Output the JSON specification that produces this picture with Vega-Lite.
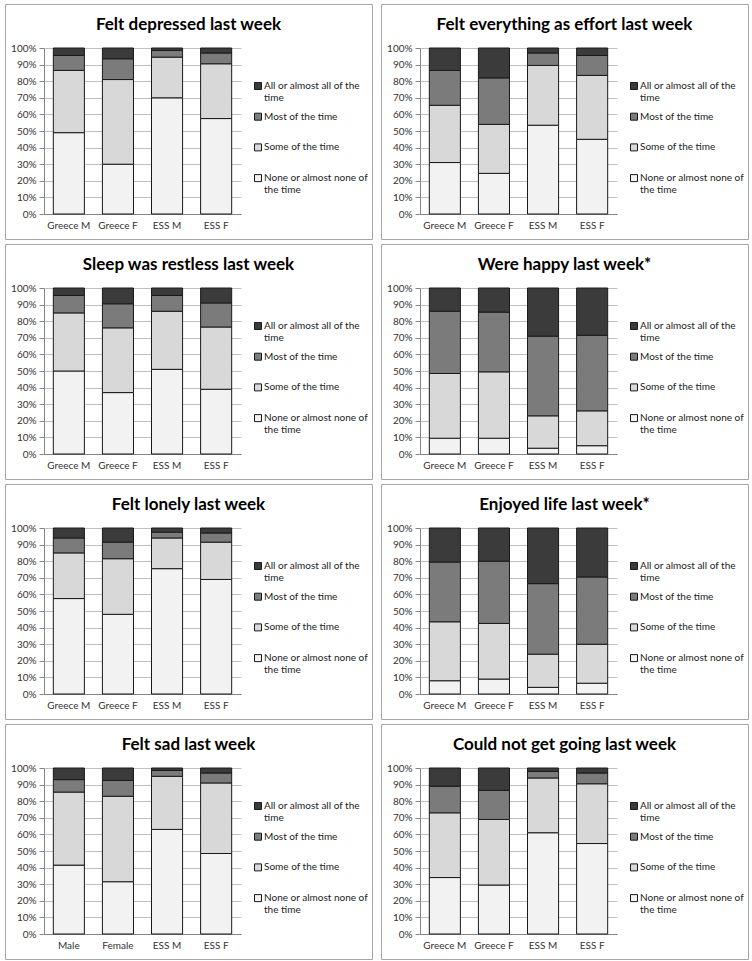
{
  "$schema": "https://vega.github.io/schema/vega-lite/v6.json",
  "padding": {"left": 4, "top": 3, "right": 0, "bottom": 0},
  "background": "white",
  "data": {"values": [
    {"q":"Felt depressed last week","g":"Greece M","r":"None","k":1,"v":49},
    {"q":"Felt depressed last week","g":"Greece M","r":"Some","k":2,"v":37.5},
    {"q":"Felt depressed last week","g":"Greece M","r":"Most","k":3,"v":9},
    {"q":"Felt depressed last week","g":"Greece M","r":"All","k":4,"v":4.5},
    {"q":"Felt depressed last week","g":"Greece F","r":"None","k":1,"v":30},
    {"q":"Felt depressed last week","g":"Greece F","r":"Some","k":2,"v":51},
    {"q":"Felt depressed last week","g":"Greece F","r":"Most","k":3,"v":12.5},
    {"q":"Felt depressed last week","g":"Greece F","r":"All","k":4,"v":6.5},
    {"q":"Felt depressed last week","g":"ESS M","r":"None","k":1,"v":70},
    {"q":"Felt depressed last week","g":"ESS M","r":"Some","k":2,"v":24.5},
    {"q":"Felt depressed last week","g":"ESS M","r":"Most","k":3,"v":4},
    {"q":"Felt depressed last week","g":"ESS M","r":"All","k":4,"v":1.5},
    {"q":"Felt depressed last week","g":"ESS F","r":"None","k":1,"v":57.5},
    {"q":"Felt depressed last week","g":"ESS F","r":"Some","k":2,"v":33},
    {"q":"Felt depressed last week","g":"ESS F","r":"Most","k":3,"v":6.5},
    {"q":"Felt depressed last week","g":"ESS F","r":"All","k":4,"v":3},

    {"q":"Felt everything as effort last week","g":"Greece M","r":"None","k":1,"v":31},
    {"q":"Felt everything as effort last week","g":"Greece M","r":"Some","k":2,"v":34.5},
    {"q":"Felt everything as effort last week","g":"Greece M","r":"Most","k":3,"v":21},
    {"q":"Felt everything as effort last week","g":"Greece M","r":"All","k":4,"v":13.5},
    {"q":"Felt everything as effort last week","g":"Greece F","r":"None","k":1,"v":24.5},
    {"q":"Felt everything as effort last week","g":"Greece F","r":"Some","k":2,"v":29.5},
    {"q":"Felt everything as effort last week","g":"Greece F","r":"Most","k":3,"v":28},
    {"q":"Felt everything as effort last week","g":"Greece F","r":"All","k":4,"v":18},
    {"q":"Felt everything as effort last week","g":"ESS M","r":"None","k":1,"v":53.5},
    {"q":"Felt everything as effort last week","g":"ESS M","r":"Some","k":2,"v":36},
    {"q":"Felt everything as effort last week","g":"ESS M","r":"Most","k":3,"v":7.5},
    {"q":"Felt everything as effort last week","g":"ESS M","r":"All","k":4,"v":3},
    {"q":"Felt everything as effort last week","g":"ESS F","r":"None","k":1,"v":45},
    {"q":"Felt everything as effort last week","g":"ESS F","r":"Some","k":2,"v":38.5},
    {"q":"Felt everything as effort last week","g":"ESS F","r":"Most","k":3,"v":12},
    {"q":"Felt everything as effort last week","g":"ESS F","r":"All","k":4,"v":4.5},

    {"q":"Sleep was restless last week","g":"Greece M","r":"None","k":1,"v":50},
    {"q":"Sleep was restless last week","g":"Greece M","r":"Some","k":2,"v":35},
    {"q":"Sleep was restless last week","g":"Greece M","r":"Most","k":3,"v":10.5},
    {"q":"Sleep was restless last week","g":"Greece M","r":"All","k":4,"v":4.5},
    {"q":"Sleep was restless last week","g":"Greece F","r":"None","k":1,"v":37},
    {"q":"Sleep was restless last week","g":"Greece F","r":"Some","k":2,"v":39},
    {"q":"Sleep was restless last week","g":"Greece F","r":"Most","k":3,"v":14.5},
    {"q":"Sleep was restless last week","g":"Greece F","r":"All","k":4,"v":9.5},
    {"q":"Sleep was restless last week","g":"ESS M","r":"None","k":1,"v":51},
    {"q":"Sleep was restless last week","g":"ESS M","r":"Some","k":2,"v":35},
    {"q":"Sleep was restless last week","g":"ESS M","r":"Most","k":3,"v":9.5},
    {"q":"Sleep was restless last week","g":"ESS M","r":"All","k":4,"v":4.5},
    {"q":"Sleep was restless last week","g":"ESS F","r":"None","k":1,"v":39},
    {"q":"Sleep was restless last week","g":"ESS F","r":"Some","k":2,"v":37.5},
    {"q":"Sleep was restless last week","g":"ESS F","r":"Most","k":3,"v":14.5},
    {"q":"Sleep was restless last week","g":"ESS F","r":"All","k":4,"v":9},

    {"q":"Were happy last week*","g":"Greece M","r":"None","k":1,"v":9.5},
    {"q":"Were happy last week*","g":"Greece M","r":"Some","k":2,"v":39},
    {"q":"Were happy last week*","g":"Greece M","r":"Most","k":3,"v":37.5},
    {"q":"Were happy last week*","g":"Greece M","r":"All","k":4,"v":14},
    {"q":"Were happy last week*","g":"Greece F","r":"None","k":1,"v":9.5},
    {"q":"Were happy last week*","g":"Greece F","r":"Some","k":2,"v":40},
    {"q":"Were happy last week*","g":"Greece F","r":"Most","k":3,"v":36},
    {"q":"Were happy last week*","g":"Greece F","r":"All","k":4,"v":14.5},
    {"q":"Were happy last week*","g":"ESS M","r":"None","k":1,"v":3.5},
    {"q":"Were happy last week*","g":"ESS M","r":"Some","k":2,"v":19.5},
    {"q":"Were happy last week*","g":"ESS M","r":"Most","k":3,"v":48},
    {"q":"Were happy last week*","g":"ESS M","r":"All","k":4,"v":29},
    {"q":"Were happy last week*","g":"ESS F","r":"None","k":1,"v":5},
    {"q":"Were happy last week*","g":"ESS F","r":"Some","k":2,"v":21},
    {"q":"Were happy last week*","g":"ESS F","r":"Most","k":3,"v":45.5},
    {"q":"Were happy last week*","g":"ESS F","r":"All","k":4,"v":28.5},

    {"q":"Felt lonely last week","g":"Greece M","r":"None","k":1,"v":57.5},
    {"q":"Felt lonely last week","g":"Greece M","r":"Some","k":2,"v":27.5},
    {"q":"Felt lonely last week","g":"Greece M","r":"Most","k":3,"v":9},
    {"q":"Felt lonely last week","g":"Greece M","r":"All","k":4,"v":6},
    {"q":"Felt lonely last week","g":"Greece F","r":"None","k":1,"v":48},
    {"q":"Felt lonely last week","g":"Greece F","r":"Some","k":2,"v":33.5},
    {"q":"Felt lonely last week","g":"Greece F","r":"Most","k":3,"v":10},
    {"q":"Felt lonely last week","g":"Greece F","r":"All","k":4,"v":8.5},
    {"q":"Felt lonely last week","g":"ESS M","r":"None","k":1,"v":75.5},
    {"q":"Felt lonely last week","g":"ESS M","r":"Some","k":2,"v":18.5},
    {"q":"Felt lonely last week","g":"ESS M","r":"Most","k":3,"v":3.5},
    {"q":"Felt lonely last week","g":"ESS M","r":"All","k":4,"v":2.5},
    {"q":"Felt lonely last week","g":"ESS F","r":"None","k":1,"v":69},
    {"q":"Felt lonely last week","g":"ESS F","r":"Some","k":2,"v":22.5},
    {"q":"Felt lonely last week","g":"ESS F","r":"Most","k":3,"v":5.5},
    {"q":"Felt lonely last week","g":"ESS F","r":"All","k":4,"v":3},

    {"q":"Enjoyed life last week*","g":"Greece M","r":"None","k":1,"v":8},
    {"q":"Enjoyed life last week*","g":"Greece M","r":"Some","k":2,"v":35.5},
    {"q":"Enjoyed life last week*","g":"Greece M","r":"Most","k":3,"v":36},
    {"q":"Enjoyed life last week*","g":"Greece M","r":"All","k":4,"v":20.5},
    {"q":"Enjoyed life last week*","g":"Greece F","r":"None","k":1,"v":9},
    {"q":"Enjoyed life last week*","g":"Greece F","r":"Some","k":2,"v":33.5},
    {"q":"Enjoyed life last week*","g":"Greece F","r":"Most","k":3,"v":37.5},
    {"q":"Enjoyed life last week*","g":"Greece F","r":"All","k":4,"v":20},
    {"q":"Enjoyed life last week*","g":"ESS M","r":"None","k":1,"v":4},
    {"q":"Enjoyed life last week*","g":"ESS M","r":"Some","k":2,"v":20},
    {"q":"Enjoyed life last week*","g":"ESS M","r":"Most","k":3,"v":42.5},
    {"q":"Enjoyed life last week*","g":"ESS M","r":"All","k":4,"v":33.5},
    {"q":"Enjoyed life last week*","g":"ESS F","r":"None","k":1,"v":6.5},
    {"q":"Enjoyed life last week*","g":"ESS F","r":"Some","k":2,"v":23.5},
    {"q":"Enjoyed life last week*","g":"ESS F","r":"Most","k":3,"v":40.5},
    {"q":"Enjoyed life last week*","g":"ESS F","r":"All","k":4,"v":29.5},

    {"q":"Felt sad last week","g":"Male","r":"None","k":1,"v":41.5},
    {"q":"Felt sad last week","g":"Male","r":"Some","k":2,"v":44},
    {"q":"Felt sad last week","g":"Male","r":"Most","k":3,"v":7.5},
    {"q":"Felt sad last week","g":"Male","r":"All","k":4,"v":7},
    {"q":"Felt sad last week","g":"Female","r":"None","k":1,"v":31.5},
    {"q":"Felt sad last week","g":"Female","r":"Some","k":2,"v":51.5},
    {"q":"Felt sad last week","g":"Female","r":"Most","k":3,"v":9.5},
    {"q":"Felt sad last week","g":"Female","r":"All","k":4,"v":7.5},
    {"q":"Felt sad last week","g":"ESS M","r":"None","k":1,"v":63},
    {"q":"Felt sad last week","g":"ESS M","r":"Some","k":2,"v":32},
    {"q":"Felt sad last week","g":"ESS M","r":"Most","k":3,"v":3.5},
    {"q":"Felt sad last week","g":"ESS M","r":"All","k":4,"v":1.5},
    {"q":"Felt sad last week","g":"ESS F","r":"None","k":1,"v":48.5},
    {"q":"Felt sad last week","g":"ESS F","r":"Some","k":2,"v":42.5},
    {"q":"Felt sad last week","g":"ESS F","r":"Most","k":3,"v":6},
    {"q":"Felt sad last week","g":"ESS F","r":"All","k":4,"v":3},

    {"q":"Could not get going last week","g":"Greece M","r":"None","k":1,"v":34},
    {"q":"Could not get going last week","g":"Greece M","r":"Some","k":2,"v":39},
    {"q":"Could not get going last week","g":"Greece M","r":"Most","k":3,"v":16},
    {"q":"Could not get going last week","g":"Greece M","r":"All","k":4,"v":11},
    {"q":"Could not get going last week","g":"Greece F","r":"None","k":1,"v":29.5},
    {"q":"Could not get going last week","g":"Greece F","r":"Some","k":2,"v":39.5},
    {"q":"Could not get going last week","g":"Greece F","r":"Most","k":3,"v":17.5},
    {"q":"Could not get going last week","g":"Greece F","r":"All","k":4,"v":13.5},
    {"q":"Could not get going last week","g":"ESS M","r":"None","k":1,"v":61},
    {"q":"Could not get going last week","g":"ESS M","r":"Some","k":2,"v":33},
    {"q":"Could not get going last week","g":"ESS M","r":"Most","k":3,"v":4},
    {"q":"Could not get going last week","g":"ESS M","r":"All","k":4,"v":2},
    {"q":"Could not get going last week","g":"ESS F","r":"None","k":1,"v":54.5},
    {"q":"Could not get going last week","g":"ESS F","r":"Some","k":2,"v":36},
    {"q":"Could not get going last week","g":"ESS F","r":"Most","k":3,"v":6.5},
    {"q":"Could not get going last week","g":"ESS F","r":"All","k":4,"v":3}
  ]},
  "columns": 2,
  "spacing": {"row": 5, "column": 9},
  "bounds": "flush",
  "resolve": {"legend": {"color": "independent"}, "scale": {"x": "independent"}},
  "concat": [
    {"title": "Felt depressed last week", "width": 367, "height": 235,
     "transform": [{"filter": "datum.q == 'Felt depressed last week'"}],
     "mark": {"type": "bar", "stroke": "#1a1a1a", "strokeWidth": 1},
     "encoding": {
       "x": {"field": "g", "type": "nominal", "sort": ["Greece M","Greece F","ESS M","ESS F"], "scale": {"range": [39, 236], "paddingInner": 0.367, "paddingOuter": 0.19}, "axis": {"title": null, "offset": -25, "labelAngle": 0, "ticks": false, "labelPadding": 6, "grid": false}},
       "y": {"field": "v", "type": "quantitative", "stack": "zero", "scale": {"domain": [0, 100], "range": [210, 44], "nice": false}, "axis": {"title": null, "offset": -39, "values": [0,10,20,30,40,50,60,70,80,90,100], "labelExpr": "datum.value + '%'", "grid": true, "ticks": true, "tickSize": 5, "labelPadding": 3}},
       "color": {"field": "r", "type": "nominal", "scale": {"domain": ["All","Most","Some","None"], "range": ["#3b3b3b","#7b7b7b","#d8d8d8","#f2f2f2"]},
         "legend": {"orient": "none", "legendX": 248, "legendY": 77, "title": null, "symbolType": "square", "symbolSize": 49, "symbolStrokeColor": "#1a1a1a", "symbolStrokeWidth": 1, "labelOffset": 1, "rowPadding": 7.7, "labelExpr": "datum.value == 'All' ? ['All or almost all of the', 'time'] : datum.value == 'Most' ? ['Most of the time', ''] : datum.value == 'Some' ? ['Some of the time', ''] : ['None or almost none of', 'the time']"}},
       "order": {"field": "k", "type": "quantitative"}
     }},
    {"title": "Felt everything as effort last week", "width": 367, "height": 235,
     "transform": [{"filter": "datum.q == 'Felt everything as effort last week'"}],
     "mark": {"type": "bar", "stroke": "#1a1a1a", "strokeWidth": 1},
     "encoding": {
       "x": {"field": "g", "type": "nominal", "sort": ["Greece M","Greece F","ESS M","ESS F"], "scale": {"range": [39, 236], "paddingInner": 0.367, "paddingOuter": 0.19}, "axis": {"title": null, "offset": -25, "labelAngle": 0, "ticks": false, "labelPadding": 6, "grid": false}},
       "y": {"field": "v", "type": "quantitative", "stack": "zero", "scale": {"domain": [0, 100], "range": [210, 44], "nice": false}, "axis": {"title": null, "offset": -39, "values": [0,10,20,30,40,50,60,70,80,90,100], "labelExpr": "datum.value + '%'", "grid": true, "ticks": true, "tickSize": 5, "labelPadding": 3}},
       "color": {"field": "r", "type": "nominal", "scale": {"domain": ["All","Most","Some","None"], "range": ["#3b3b3b","#7b7b7b","#d8d8d8","#f2f2f2"]},
         "legend": {"orient": "none", "legendX": 248, "legendY": 77, "title": null, "symbolType": "square", "symbolSize": 49, "symbolStrokeColor": "#1a1a1a", "symbolStrokeWidth": 1, "labelOffset": 1, "rowPadding": 7.7, "labelExpr": "datum.value == 'All' ? ['All or almost all of the', 'time'] : datum.value == 'Most' ? ['Most of the time', ''] : datum.value == 'Some' ? ['Some of the time', ''] : ['None or almost none of', 'the time']"}},
       "order": {"field": "k", "type": "quantitative"}
     }},
    {"title": "Sleep was restless last week", "width": 367, "height": 235,
     "transform": [{"filter": "datum.q == 'Sleep was restless last week'"}],
     "mark": {"type": "bar", "stroke": "#1a1a1a", "strokeWidth": 1},
     "encoding": {
       "x": {"field": "g", "type": "nominal", "sort": ["Greece M","Greece F","ESS M","ESS F"], "scale": {"range": [39, 236], "paddingInner": 0.367, "paddingOuter": 0.19}, "axis": {"title": null, "offset": -25, "labelAngle": 0, "ticks": false, "labelPadding": 6, "grid": false}},
       "y": {"field": "v", "type": "quantitative", "stack": "zero", "scale": {"domain": [0, 100], "range": [210, 44], "nice": false}, "axis": {"title": null, "offset": -39, "values": [0,10,20,30,40,50,60,70,80,90,100], "labelExpr": "datum.value + '%'", "grid": true, "ticks": true, "tickSize": 5, "labelPadding": 3}},
       "color": {"field": "r", "type": "nominal", "scale": {"domain": ["All","Most","Some","None"], "range": ["#3b3b3b","#7b7b7b","#d8d8d8","#f2f2f2"]},
         "legend": {"orient": "none", "legendX": 248, "legendY": 77, "title": null, "symbolType": "square", "symbolSize": 49, "symbolStrokeColor": "#1a1a1a", "symbolStrokeWidth": 1, "labelOffset": 1, "rowPadding": 7.7, "labelExpr": "datum.value == 'All' ? ['All or almost all of the', 'time'] : datum.value == 'Most' ? ['Most of the time', ''] : datum.value == 'Some' ? ['Some of the time', ''] : ['None or almost none of', 'the time']"}},
       "order": {"field": "k", "type": "quantitative"}
     }},
    {"title": "Were happy last week*", "width": 367, "height": 235,
     "transform": [{"filter": "datum.q == 'Were happy last week*'"}],
     "mark": {"type": "bar", "stroke": "#1a1a1a", "strokeWidth": 1},
     "encoding": {
       "x": {"field": "g", "type": "nominal", "sort": ["Greece M","Greece F","ESS M","ESS F"], "scale": {"range": [39, 236], "paddingInner": 0.367, "paddingOuter": 0.19}, "axis": {"title": null, "offset": -25, "labelAngle": 0, "ticks": false, "labelPadding": 6, "grid": false}},
       "y": {"field": "v", "type": "quantitative", "stack": "zero", "scale": {"domain": [0, 100], "range": [210, 44], "nice": false}, "axis": {"title": null, "offset": -39, "values": [0,10,20,30,40,50,60,70,80,90,100], "labelExpr": "datum.value + '%'", "grid": true, "ticks": true, "tickSize": 5, "labelPadding": 3}},
       "color": {"field": "r", "type": "nominal", "scale": {"domain": ["All","Most","Some","None"], "range": ["#3b3b3b","#7b7b7b","#d8d8d8","#f2f2f2"]},
         "legend": {"orient": "none", "legendX": 248, "legendY": 77, "title": null, "symbolType": "square", "symbolSize": 49, "symbolStrokeColor": "#1a1a1a", "symbolStrokeWidth": 1, "labelOffset": 1, "rowPadding": 7.7, "labelExpr": "datum.value == 'All' ? ['All or almost all of the', 'time'] : datum.value == 'Most' ? ['Most of the time', ''] : datum.value == 'Some' ? ['Some of the time', ''] : ['None or almost none of', 'the time']"}},
       "order": {"field": "k", "type": "quantitative"}
     }},
    {"title": "Felt lonely last week", "width": 367, "height": 235,
     "transform": [{"filter": "datum.q == 'Felt lonely last week'"}],
     "mark": {"type": "bar", "stroke": "#1a1a1a", "strokeWidth": 1},
     "encoding": {
       "x": {"field": "g", "type": "nominal", "sort": ["Greece M","Greece F","ESS M","ESS F"], "scale": {"range": [39, 236], "paddingInner": 0.367, "paddingOuter": 0.19}, "axis": {"title": null, "offset": -25, "labelAngle": 0, "ticks": false, "labelPadding": 6, "grid": false}},
       "y": {"field": "v", "type": "quantitative", "stack": "zero", "scale": {"domain": [0, 100], "range": [210, 44], "nice": false}, "axis": {"title": null, "offset": -39, "values": [0,10,20,30,40,50,60,70,80,90,100], "labelExpr": "datum.value + '%'", "grid": true, "ticks": true, "tickSize": 5, "labelPadding": 3}},
       "color": {"field": "r", "type": "nominal", "scale": {"domain": ["All","Most","Some","None"], "range": ["#3b3b3b","#7b7b7b","#d8d8d8","#f2f2f2"]},
         "legend": {"orient": "none", "legendX": 248, "legendY": 77, "title": null, "symbolType": "square", "symbolSize": 49, "symbolStrokeColor": "#1a1a1a", "symbolStrokeWidth": 1, "labelOffset": 1, "rowPadding": 7.7, "labelExpr": "datum.value == 'All' ? ['All or almost all of the', 'time'] : datum.value == 'Most' ? ['Most of the time', ''] : datum.value == 'Some' ? ['Some of the time', ''] : ['None or almost none of', 'the time']"}},
       "order": {"field": "k", "type": "quantitative"}
     }},
    {"title": "Enjoyed life last week*", "width": 367, "height": 235,
     "transform": [{"filter": "datum.q == 'Enjoyed life last week*'"}],
     "mark": {"type": "bar", "stroke": "#1a1a1a", "strokeWidth": 1},
     "encoding": {
       "x": {"field": "g", "type": "nominal", "sort": ["Greece M","Greece F","ESS M","ESS F"], "scale": {"range": [39, 236], "paddingInner": 0.367, "paddingOuter": 0.19}, "axis": {"title": null, "offset": -25, "labelAngle": 0, "ticks": false, "labelPadding": 6, "grid": false}},
       "y": {"field": "v", "type": "quantitative", "stack": "zero", "scale": {"domain": [0, 100], "range": [210, 44], "nice": false}, "axis": {"title": null, "offset": -39, "values": [0,10,20,30,40,50,60,70,80,90,100], "labelExpr": "datum.value + '%'", "grid": true, "ticks": true, "tickSize": 5, "labelPadding": 3}},
       "color": {"field": "r", "type": "nominal", "scale": {"domain": ["All","Most","Some","None"], "range": ["#3b3b3b","#7b7b7b","#d8d8d8","#f2f2f2"]},
         "legend": {"orient": "none", "legendX": 248, "legendY": 77, "title": null, "symbolType": "square", "symbolSize": 49, "symbolStrokeColor": "#1a1a1a", "symbolStrokeWidth": 1, "labelOffset": 1, "rowPadding": 7.7, "labelExpr": "datum.value == 'All' ? ['All or almost all of the', 'time'] : datum.value == 'Most' ? ['Most of the time', ''] : datum.value == 'Some' ? ['Some of the time', ''] : ['None or almost none of', 'the time']"}},
       "order": {"field": "k", "type": "quantitative"}
     }},
    {"title": "Felt sad last week", "width": 367, "height": 235,
     "transform": [{"filter": "datum.q == 'Felt sad last week'"}],
     "mark": {"type": "bar", "stroke": "#1a1a1a", "strokeWidth": 1},
     "encoding": {
       "x": {"field": "g", "type": "nominal", "sort": ["Male","Female","ESS M","ESS F"], "scale": {"range": [39, 236], "paddingInner": 0.367, "paddingOuter": 0.19}, "axis": {"title": null, "offset": -25, "labelAngle": 0, "ticks": false, "labelPadding": 6, "grid": false}},
       "y": {"field": "v", "type": "quantitative", "stack": "zero", "scale": {"domain": [0, 100], "range": [210, 44], "nice": false}, "axis": {"title": null, "offset": -39, "values": [0,10,20,30,40,50,60,70,80,90,100], "labelExpr": "datum.value + '%'", "grid": true, "ticks": true, "tickSize": 5, "labelPadding": 3}},
       "color": {"field": "r", "type": "nominal", "scale": {"domain": ["All","Most","Some","None"], "range": ["#3b3b3b","#7b7b7b","#d8d8d8","#f2f2f2"]},
         "legend": {"orient": "none", "legendX": 248, "legendY": 77, "title": null, "symbolType": "square", "symbolSize": 49, "symbolStrokeColor": "#1a1a1a", "symbolStrokeWidth": 1, "labelOffset": 1, "rowPadding": 7.7, "labelExpr": "datum.value == 'All' ? ['All or almost all of the', 'time'] : datum.value == 'Most' ? ['Most of the time', ''] : datum.value == 'Some' ? ['Some of the time', ''] : ['None or almost none of', 'the time']"}},
       "order": {"field": "k", "type": "quantitative"}
     }},
    {"title": "Could not get going last week", "width": 367, "height": 235,
     "transform": [{"filter": "datum.q == 'Could not get going last week'"}],
     "mark": {"type": "bar", "stroke": "#1a1a1a", "strokeWidth": 1},
     "encoding": {
       "x": {"field": "g", "type": "nominal", "sort": ["Greece M","Greece F","ESS M","ESS F"], "scale": {"range": [39, 236], "paddingInner": 0.367, "paddingOuter": 0.19}, "axis": {"title": null, "offset": -25, "labelAngle": 0, "ticks": false, "labelPadding": 6, "grid": false}},
       "y": {"field": "v", "type": "quantitative", "stack": "zero", "scale": {"domain": [0, 100], "range": [210, 44], "nice": false}, "axis": {"title": null, "offset": -39, "values": [0,10,20,30,40,50,60,70,80,90,100], "labelExpr": "datum.value + '%'", "grid": true, "ticks": true, "tickSize": 5, "labelPadding": 3}},
       "color": {"field": "r", "type": "nominal", "scale": {"domain": ["All","Most","Some","None"], "range": ["#3b3b3b","#7b7b7b","#d8d8d8","#f2f2f2"]},
         "legend": {"orient": "none", "legendX": 248, "legendY": 77, "title": null, "symbolType": "square", "symbolSize": 49, "symbolStrokeColor": "#1a1a1a", "symbolStrokeWidth": 1, "labelOffset": 1, "rowPadding": 7.7, "labelExpr": "datum.value == 'All' ? ['All or almost all of the', 'time'] : datum.value == 'Most' ? ['Most of the time', ''] : datum.value == 'Some' ? ['Some of the time', ''] : ['None or almost none of', 'the time']"}},
       "order": {"field": "k", "type": "quantitative"}
     }}
  ],
  "config": {
    "font": "Lato",
    "view": {"stroke": "#a6a6a6", "strokeWidth": 1},
    "title": {"font": "Lato", "fontSize": 17, "fontWeight": "bold", "color": "#000000", "anchor": "middle", "dy": 34},
    "axis": {"labelFont": "Lato", "labelFontSize": 10, "labelColor": "#333333", "domainColor": "#868686", "tickColor": "#868686", "gridColor": "#c0c0c0", "gridWidth": 1, "domainWidth": 1},
    "legend": {"labelFont": "Lato", "labelFontSize": 10, "labelColor": "#222222", "labelLimit": 200}
  }
}
